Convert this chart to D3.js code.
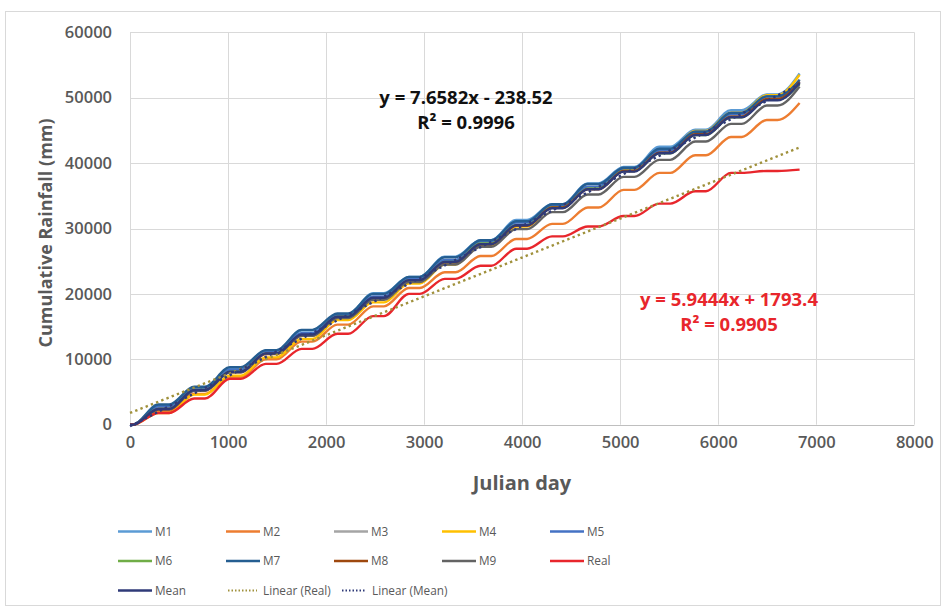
<!DOCTYPE html>
<html><head><meta charset="utf-8">
<script src="https://cdn.jsdelivr.net/npm/d3@7"></script>
<style>body{margin:0;background:#fff}svg{display:block;font-family:"Open Sans",sans-serif}</style>
</head><body><svg id="c" width="946" height="608"></svg>
<script>
// wet-season start / end days (each series rises between them, flat otherwise)
const riseStart = [30, 400, 765, 1130, 1495, 1860, 2225, 2590, 2955, 3320, 3685, 4050, 4415, 4780, 5145, 5510, 5875, 6240, 6605];
const riseEnd   = [290, 655, 1020, 1385, 1750, 2115, 2480, 2845, 3210, 3575, 3940, 4305, 4670, 5035, 5400, 5765, 6130, 6495, 6830];

// cumulative rainfall (mm) reached at the end of each wet season
const M1   = [2900,5600,8700,11300,14400,16900,20100,22600,25700,28200,31300,33700,36900,39400,42500,45100,48100,50500,53700];
const M2   = [2000,4700,7300,10000,12700,15300,18100,20900,23300,25800,28400,30700,33200,35900,38500,41200,44000,46600,49200];
const M3   = [2600,5300,8300,10900,13900,16500,19500,22100,25100,27700,30600,33200,36200,38800,41800,44400,47300,49900,52800];
const M4   = [1800,4600,7500,10300,13100,16000,18700,21600,24500,27400,30300,33200,36200,39100,42000,44900,47700,50400,53500];
const M5   = [2800,5700,8400,11300,14000,16800,19600,22400,25200,28000,30900,33600,36400,39200,41900,44800,47500,50200,52500];
const M6   = [2400,5300,8100,10900,13700,16500,19300,22100,24900,27700,30500,33200,36100,38800,41500,44300,47000,49700,52100];
const M7   = [3100,5800,8800,11400,14500,17000,20000,22600,25600,28200,31100,33700,36800,39300,42200,44800,47700,50200,52700];
const M8   = [2300,5200,8000,10800,13600,16400,19200,22000,24800,27600,30400,33200,36000,38800,41600,44400,47100,49800,52400];
const M9   = [2400,5200,8000,10900,13600,16300,19100,21800,24500,27200,29900,32500,35200,37900,40500,43300,46000,48800,51700];
const Real = [1800,4000,7000,9300,11600,13900,16600,20000,22300,24300,26900,28800,30300,31900,33800,35700,38500,38800,39000];
const Mean = [2400,5300,8100,10900,13800,16500,19400,22100,24900,27600,30500,33100,36000,38700,41500,44300,47000,49600,52300];

const seriesNames  = ["M1","M2","M3","M4","M5","M6","M7","M8","M9","Real","Mean"];
const seriesValues = [M1,M2,M3,M4,M5,M6,M7,M8,M9,Real,Mean];
const seriesColors = ["#5b9bd5","#ed7d31","#a5a5a5","#ffc000","#4472c4","#70ad47","#255e91","#9e480e","#636363","#e8262c","#2f3a78"];

const xTicks = [0,1000,2000,3000,4000,5000,6000,7000,8000];
const yTicks = [0,10000,20000,30000,40000,50000,60000];

// linear trend lines [slope, intercept] and their span
const trendReal = [5.9444, 1793.4];
const trendMean = [7.6582, -238.52];
const trendSpan = [0, 6830];
const eqMean = ["y = 7.6582x - 238.52", "R² = 0.9996"];
const eqReal = ["y = 5.9444x + 1793.4", "R² = 0.9905"];

const svg = d3.select("#c");
svg.append("rect").attr("x",5.5).attr("y",11.5).attr("width",935).attr("height",594)
  .attr("fill","#fff").attr("stroke","#d9d9d9");

const x = d3.scaleLinear().domain([0,8000]).range([130,914.3]);
const y = d3.scaleLinear().domain([0,60000]).range([424.7,32.3]);

// grid
svg.append("g").selectAll("line").data(yTicks).join("line")
  .attr("x1",x(0)).attr("x2",x(8000)).attr("y1",d=>Math.round(y(d))+0.5).attr("y2",d=>Math.round(y(d))+0.5)
  .attr("stroke",d=>d===0?"#bfbfbf":"#d9d9d9").attr("stroke-width",1);
svg.append("g").selectAll("line").data(xTicks).join("line")
  .attr("y1",y(0)).attr("y2",y(60000)).attr("x1",d=>Math.round(x(d))+0.5).attr("x2",d=>Math.round(x(d))+0.5)
  .attr("stroke","#d9d9d9").attr("stroke-width",1);

// axes (labels only)
const yAxis = svg.append("g").attr("transform","translate(112,0)")
  .call(d3.axisLeft(y).tickValues(yTicks).tickFormat(d3.format("d")).tickSize(0).tickPadding(0));
const xAxis = svg.append("g").attr("transform",`translate(0,${y(0)})`)
  .call(d3.axisBottom(x).tickValues(xTicks).tickFormat(d3.format("d")).tickSize(0).tickPadding(12));
[yAxis,xAxis].forEach(a=>{
  a.select(".domain").remove();
  a.selectAll("text").attr("fill","#595959").style("font-size","16.5px").style("font-family","'Open Sans',sans-serif").style("font-weight","600");
});

// series
const line = d3.line().x(d=>x(d[0])).y(d=>y(d[1])).curve(d3.curveMonotoneX);
function buildPoints(vals){
  const pts=[[0,0]]; let prev=0;
  vals.forEach((v,k)=>{ pts.push([riseStart[k],prev]); pts.push([riseEnd[k],v]); prev=v; });
  return pts;
}
seriesValues.forEach((vals,i)=>{
  svg.append("path").attr("d",line(buildPoints(vals))).attr("fill","none")
    .attr("stroke",seriesColors[i]).attr("stroke-width",2.4).attr("stroke-linejoin","round");
});

// trendlines
function trend(c,color){
  svg.append("line").attr("x1",x(trendSpan[0])).attr("y1",y(c[0]*trendSpan[0]+c[1]))
    .attr("x2",x(trendSpan[1])).attr("y2",y(c[0]*trendSpan[1]+c[1]))
    .attr("stroke",color).attr("stroke-width",2.4).attr("stroke-dasharray","2.4,3.2");
}
trend(trendReal,"#a0913c");
trend(trendMean,"#2f3a78");

// equations
const eqm = svg.append("g").attr("font-weight","bold").attr("font-size","18.5px").attr("fill","#111").attr("text-anchor","middle");
eqm.append("text").attr("x",466).attr("y",104).text(eqMean[0]);
eqm.append("text").attr("x",466).attr("y",129).text(eqMean[1]);
const eqr = svg.append("g").attr("font-weight","bold").attr("font-size","18.5px").attr("fill","#e8262c").attr("text-anchor","middle");
eqr.append("text").attr("x",729).attr("y",306).text(eqReal[0]);
eqr.append("text").attr("x",729).attr("y",331).text(eqReal[1]);

// axis titles
svg.append("text").attr("x",522).attr("y",490).attr("text-anchor","middle")
  .attr("font-weight","bold").attr("font-size","20px").attr("fill","#595959").text("Julian day");
svg.append("text").attr("transform","translate(52,233) rotate(-90)").attr("text-anchor","middle")
  .attr("font-weight","bold").attr("font-size","18px").attr("fill","#595959").text("Cumulative Rainfall (mm)");

// legend
const legendItems = seriesNames.map((n,i)=>({name:n,color:seriesColors[i],dash:null}))
  .concat([{name:"Linear (Real)",color:"#a0913c",dash:"1.5,2"},{name:"Linear (Mean)",color:"#2f3a78",dash:"1.5,2"}]);
const lg = svg.append("g");
legendItems.forEach((it,i)=>{
  const col=i%5, row=Math.floor(i/5);
  const lx=118+col*108, ly=531.5+row*29.5;
  const g=lg.append("g").attr("transform",`translate(${lx},${ly})`);
  if(it.dash){
    const x1 = col===1?2:8, x2 = 31;
    g.append("line").attr("x1",x1).attr("x2",x2).attr("y1",0).attr("y2",0)
      .attr("stroke",it.color).attr("stroke-width",1.8).attr("stroke-dasharray",it.dash);
  } else {
    g.append("line").attr("x1",0).attr("x2",34).attr("y1",0).attr("y2",0)
      .attr("stroke",it.color).attr("stroke-width",2.5);
  }
  g.append("text").attr("x",it.dash?(col===1?37:38):37).attr("y",4.3).attr("font-size","11.8px")
    .attr("fill","#595959").text(it.name);
});
</script></body></html>
